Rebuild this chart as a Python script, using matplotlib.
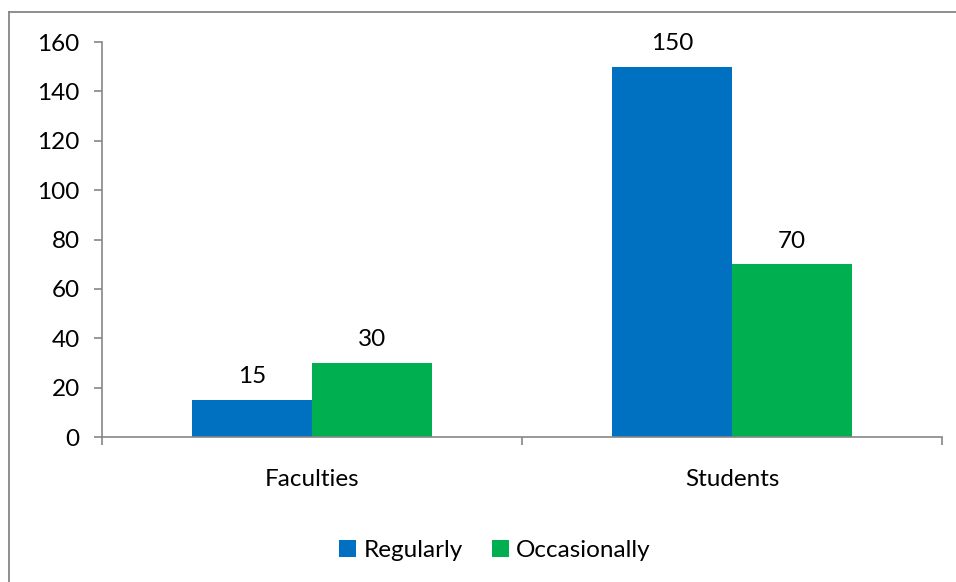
import matplotlib
matplotlib.use("Agg")
import matplotlib.pyplot as plt
import numpy as np
from matplotlib.lines import Line2D

categories = ["Faculties", "Students"]
regularly = [15, 150]
occasionally = [30, 70]
series_names = ["Regularly", "Occasionally"]

plt.rcParams['font.family'] = ['Lato', 'DejaVu Sans']
plt.rcParams['font.size'] = 17.5

fig = plt.figure(figsize=(9.56, 5.82), dpi=100)
ax = fig.add_axes([0.1067, 0.2491, 0.8787, 0.6787])

x = np.arange(len(categories)) + 0.5
w = 1 / 3.5
b1 = ax.bar(x - w / 2, regularly, w, color="#0070C0", label=series_names[0])
b2 = ax.bar(x + w / 2, occasionally, w, color="#00B050", label=series_names[1])
for bars in (b1, b2):
    for r in bars:
        ax.annotate(f"{r.get_height():g}", (r.get_x() + r.get_width() / 2, r.get_height()),
                    xytext=(0, 9), textcoords="offset points", ha="center", va="bottom",
                    color="black")

ax.set_xlim(0, len(categories))
ax.set_ylim(0, 160)
ax.set_yticks(range(0, 161, 20))
ax.set_xticks([0, 1, 2])
ax.set_xticklabels([])
ax.set_xticks(x, minor=True)
ax.set_xticklabels(categories, minor=True)
ax.tick_params(axis="x", which="minor", length=0, pad=23)
ax.tick_params(axis="x", which="major", length=6, color="#868686", width=1.2)
ax.tick_params(axis="y", length=6, color="#868686", width=1.2, pad=10)
for s in ("top", "right"):
    ax.spines[s].set_visible(False)
for s in ("left", "bottom"):
    ax.spines[s].set_color("#868686")
    ax.spines[s].set_linewidth(1.2)

ax.legend(loc="upper center", bbox_to_anchor=(0.468, -0.205), ncol=2, frameon=False,
          handlelength=0.7, handleheight=0.7, handletextpad=0.3, columnspacing=1.2)

# chart border (only left and top edges visible in the crop)
fig.add_artist(Line2D([9 / 956, 9 / 956], [0, 1 - 12 / 582], color="#868686", lw=1.3))
fig.add_artist(Line2D([9 / 956, 1], [1 - 12 / 582, 1 - 12 / 582], color="#868686", lw=1.3))

fig.savefig("out.png", dpi=100)
